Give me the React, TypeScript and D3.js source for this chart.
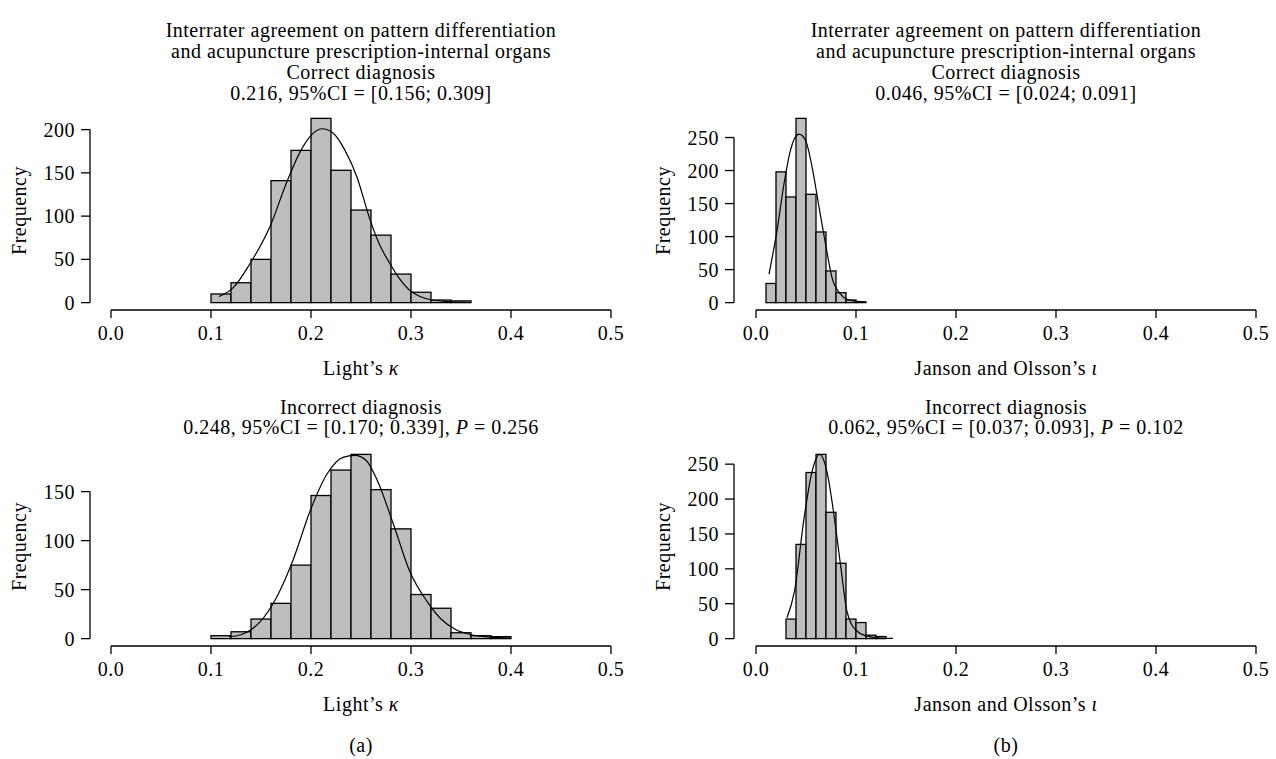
import React from 'react';
import * as d3 from 'd3';

// bootstrap histograms
const kappaCorrectCounts = [10, 23, 50, 141, 176, 213, 153, 107, 78, 33, 12, 3, 2];
const kappaIncorrectCounts = [3, 7, 20, 36, 75, 146, 172, 188, 152, 112, 45, 31, 6, 3, 2];
const iotaCorrectCounts = [29, 198, 160, 279, 164, 107, 48, 15, 4, 1];
const iotaIncorrectCounts = [28, 135, 238, 264, 181, 108, 28, 23, 5, 3];

const kappaCorrectStart = 0.1;
const kappaIncorrectStart = 0.1;
const kappaBinWidth = 0.02;
const iotaCorrectStart = 0.01;
const iotaIncorrectStart = 0.03;
const iotaBinWidth = 0.01;

// density curves (x, frequency)
const kappaCorrectCurve: [number, number][] = [
  [0.108, 7], [0.122, 17], [0.139, 45], [0.159, 88], [0.176, 140], [0.189, 174],
  [0.199, 192], [0.211, 201], [0.222, 196], [0.234, 176], [0.246, 145], [0.259, 96],
  [0.269, 66], [0.279, 45], [0.289, 27], [0.299, 14], [0.309, 7], [0.322, 3],
  [0.336, 1.2], [0.356, 0.4],
];
const kappaIncorrectCurve: [number, number][] = [
  [0.118, 2], [0.13, 4], [0.14, 9], [0.149, 17], [0.166, 43], [0.182, 80],
  [0.199, 130], [0.216, 168], [0.232, 185], [0.244, 187], [0.255, 182], [0.266, 162],
  [0.282, 118], [0.299, 68], [0.316, 38], [0.33, 20], [0.345, 9], [0.36, 4],
  [0.38, 1.5], [0.4, 0.5],
];
const iotaCorrectCurve: [number, number][] = [
  [0.013, 43], [0.021, 109], [0.028, 180], [0.0345, 231], [0.043, 255], [0.0495, 246],
  [0.056, 206], [0.063, 145], [0.0695, 89], [0.076, 38], [0.0845, 13], [0.0945, 3.5],
  [0.1095, 1],
];
const iotaIncorrectCurve: [number, number][] = [
  [0.031, 30], [0.0385, 68], [0.048, 172], [0.056, 239], [0.0635, 264], [0.071, 239],
  [0.0775, 182], [0.0845, 106], [0.091, 39], [0.1, 12], [0.11, 4], [0.12, 1.5],
  [0.13, 0.5], [0.137, 0.3],
];

const xTicks = [0, 0.1, 0.2, 0.3, 0.4, 0.5];
const yTicksKappaCorrect = [0, 50, 100, 150, 200];
const yTicksKappaIncorrect = [0, 50, 100, 150];
const yTicksIota = [0, 50, 100, 150, 200, 250];

const titleTop = [
  'Interrater agreement on pattern differentiation',
  'and acupuncture prescription-internal organs',
  'Correct diagnosis',
];

const FONT = '"Liberation Serif", "Times New Roman", serif';

type PanelProps = {
  counts: number[];
  start: number;
  binWidth: number;
  curve: [number, number][];
  yTicks: number[];
  xRange: [number, number];
  yAxisX: number;
  top: number;
  bottom: number;
  xlabel: React.ReactNode;
};

const Panel = ({ counts, start, binWidth, curve, yTicks, xRange, yAxisX, top, bottom, xlabel }: PanelProps) => {
  const x = d3.scaleLinear().domain([0, 0.5]).range(xRange);
  const max = d3.max(counts) as number;
  const y = d3.scaleLinear().domain([-0.04 * max, 1.04 * max]).range([bottom, top]);
  const line = d3.line<[number, number]>()
    .x((d) => x(d[0]))
    .y((d) => y(d[1]))
    .curve(d3.curveMonotoneX);
  const yMid = (top + bottom) / 2;

  return (
    <g>
      {counts.map((c, i) => {
        const x0 = start + i * binWidth;
        return (
          <rect key={i} x={x(x0)} y={y(c)} width={x(x0 + binWidth) - x(x0)} height={y(0) - y(c)}
            fill="#bebebe" stroke="#000" strokeWidth={1.3} />
        );
      })}
      <path d={line(curve) || ''} fill="none" stroke="#000" strokeWidth={1.2} />

      {/* y axis */}
      <line x1={yAxisX} x2={yAxisX} y1={y(yTicks[0])} y2={y(yTicks[yTicks.length - 1])} stroke="#000" strokeWidth={1.3} />
      {yTicks.map((t) => (
        <g key={t}>
          <line x1={yAxisX - 9} x2={yAxisX} y1={y(t)} y2={y(t)} stroke="#000" strokeWidth={1.3} />
          <text x={yAxisX - 15} y={y(t)} dy="0.35em" textAnchor="end">{t}</text>
        </g>
      ))}
      <text transform={`translate(${yAxisX - 71},${yMid}) rotate(-90)`} dy="0.35em" textAnchor="middle">Frequency</text>

      {/* x axis */}
      <line x1={x(0)} x2={x(0.5)} y1={bottom} y2={bottom} stroke="#000" strokeWidth={1.3} />
      {xTicks.map((t) => (
        <g key={t}>
          <line x1={x(t)} x2={x(t)} y1={bottom} y2={bottom + 8} stroke="#000" strokeWidth={1.3} />
          <text x={x(t)} y={bottom + 30} textAnchor="middle">{t.toFixed(1)}</text>
        </g>
      ))}
      <text x={(xRange[0] + xRange[1]) / 2} y={bottom + 65} textAnchor="middle">{xlabel}</text>
    </g>
  );
};

const Titles = ({ cx, stat1, stat2, p }: { cx: number; stat1: string; stat2: string; p: string }) => (
  <g textAnchor="middle">
    {titleTop.map((t, i) => (
      <text key={i} x={cx} y={37 + i * 21}>{t}</text>
    ))}
    <text x={cx} y={37 + 3 * 21}>{stat1}</text>
    <text x={cx} y={414}>Incorrect diagnosis</text>
    <text x={cx} y={434}>
      {stat2}, <tspan fontStyle="italic">P</tspan> = {p}
    </text>
  </g>
);

const kappaLabel = (
  <>
    Light’s <tspan fontStyle="italic">κ</tspan>
  </>
);
const iotaLabel = (
  <>
    Janson and Olsson’s <tspan fontStyle="italic">ι</tspan>
  </>
);

export default function App() {
  const left: [number, number] = [111, 611];
  const right: [number, number] = [756, 1256];
  return (
    <svg width={1276} height={759} style={{ display: 'block', position: 'absolute', left: 0, top: 0, background: '#fff' }}
      fontFamily={FONT} fontSize={20} letterSpacing={0.5} fill="#000">
      <rect width={1276} height={759} fill="#fff" />
      <Titles cx={361} stat1="0.216, 95%CI = [0.156; 0.309]" stat2="0.248, 95%CI = [0.170; 0.339]" p="0.256" />
      <Titles cx={1006} stat1="0.046, 95%CI = [0.024; 0.091]" stat2="0.062, 95%CI = [0.037; 0.093]" p="0.102" />

      <Panel counts={kappaCorrectCounts} start={kappaCorrectStart} binWidth={kappaBinWidth} curve={kappaCorrectCurve}
        yTicks={yTicksKappaCorrect} xRange={left} yAxisX={90} top={111} bottom={310} xlabel={kappaLabel} />
      <Panel counts={kappaIncorrectCounts} start={kappaIncorrectStart} binWidth={kappaBinWidth} curve={kappaIncorrectCurve}
        yTicks={yTicksKappaIncorrect} xRange={left} yAxisX={90} top={447} bottom={646} xlabel={kappaLabel} />
      <Panel counts={iotaCorrectCounts} start={iotaCorrectStart} binWidth={iotaBinWidth} curve={iotaCorrectCurve}
        yTicks={yTicksIota} xRange={right} yAxisX={734} top={111} bottom={310} xlabel={iotaLabel} />
      <Panel counts={iotaIncorrectCounts} start={iotaIncorrectStart} binWidth={iotaBinWidth} curve={iotaIncorrectCurve}
        yTicks={yTicksIota} xRange={right} yAxisX={734} top={447} bottom={646} xlabel={iotaLabel} />

      <text x={361} y={752} textAnchor="middle">(a)</text>
      <text x={1006} y={752} textAnchor="middle">(b)</text>
    </svg>
  );
}
